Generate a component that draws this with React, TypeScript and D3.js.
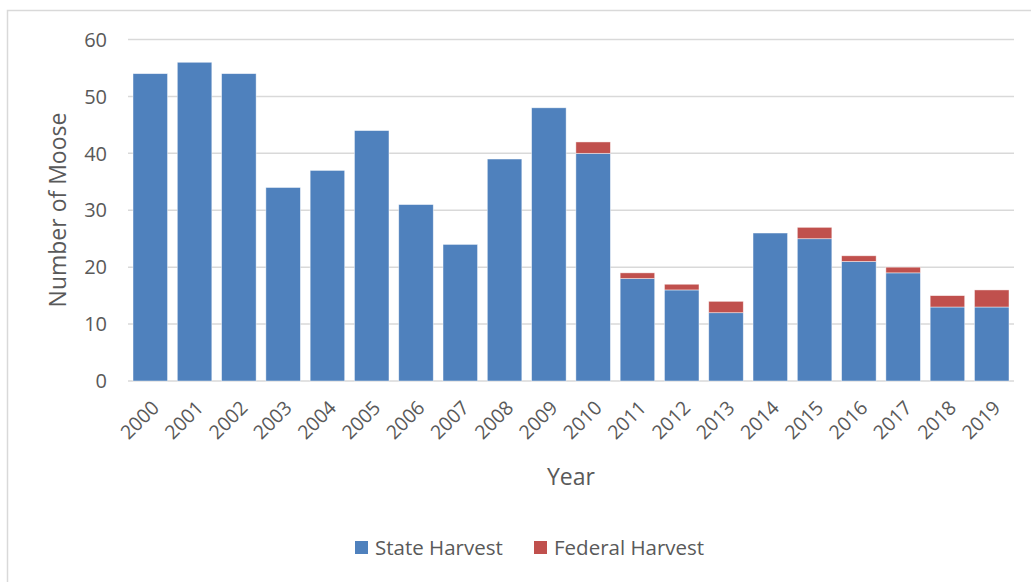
import React from "react";
import * as d3 from "d3";

const years = ["2000","2001","2002","2003","2004","2005","2006","2007","2008","2009","2010","2011","2012","2013","2014","2015","2016","2017","2018","2019"];
const stateHarvest = [54,56,54,34,37,44,31,24,39,48,40,18,16,12,26,25,21,19,13,13];
const federalHarvest = [0,0,0,0,0,0,0,0,0,0,2,1,1,2,0,2,1,1,2,3];
const yTicks = [0,10,20,30,40,50,60];
const seriesNames = ["State Harvest","Federal Harvest"];
const colors = ["#4F81BD","#C0504D"];

const W = 1031, H = 582;
const FONT = "'Open Sans', sans-serif";
const TXT = "#595959";

export default function App() {
  const x = d3.scaleBand<string>().domain(years).range([128, 1014]).paddingInner(0.22).paddingOuter(0.113);
  const y = d3.scaleLinear().domain([0, 60]).range([381, 39.5]);
  const rows = years.map((yr, i) => ({ year: yr, state: stateHarvest[i], federal: federalHarvest[i] }));
  const stack = d3.stack<any>().keys(["state", "federal"])(rows);

  return (
    <svg width={W} height={H} style={{ position: "absolute", left: 0, top: 0, background: "#fff" }} fontFamily={FONT}>
      <rect x={7.5} y={10.5} width={1030} height={580} fill="#fff" stroke="#D9D9D9" strokeWidth={1.5} />
      {yTicks.map(t => (
        <g key={t}>
          <line x1={128} x2={1014} y1={y(t)} y2={y(t)} stroke="#D9D9D9" strokeWidth={1.5} />
          <text x={107} y={y(t)} dy="0.36em" textAnchor="end" fontSize={20} fill={TXT}>{t}</text>
        </g>
      ))}
      {stack.map((s, si) => (
        <g key={si} fill={colors[si]}>
          {s.map((d, i) => d[1] - d[0] > 0 ? (
            <rect key={i} x={x(years[i])} width={x.bandwidth()} y={y(d[1])} height={y(d[0]) - y(d[1])}
              stroke="#ffffff" strokeOpacity={0.6} strokeWidth={0.75} />
          ) : null)}
        </g>
      ))}
      {years.map(yr => (
        <text key={yr} transform={`translate(${(x(yr) as number) + x.bandwidth() / 2 + 10},${409}) rotate(-45)`}
          textAnchor="end" fontSize={19.5} fill={TXT}>{yr}</text>
      ))}
      <text x={571} y={485} textAnchor="middle" fontSize={23} fill={TXT}>Year</text>
      <text transform={`translate(${66},${210}) rotate(-90)`} textAnchor="middle" fontSize={23} fill={TXT}>Number of Moose</text>
      {seriesNames.map((n, i) => {
        const lx = [355, 534][i];
        return (
          <g key={n}>
            <rect x={lx} y={541} width={13} height={13} fill={colors[i]} />
            <text x={lx + 20} y={555} fontSize={20.5} fill={TXT}>{n}</text>
          </g>
        );
      })}
    </svg>
  );
}
